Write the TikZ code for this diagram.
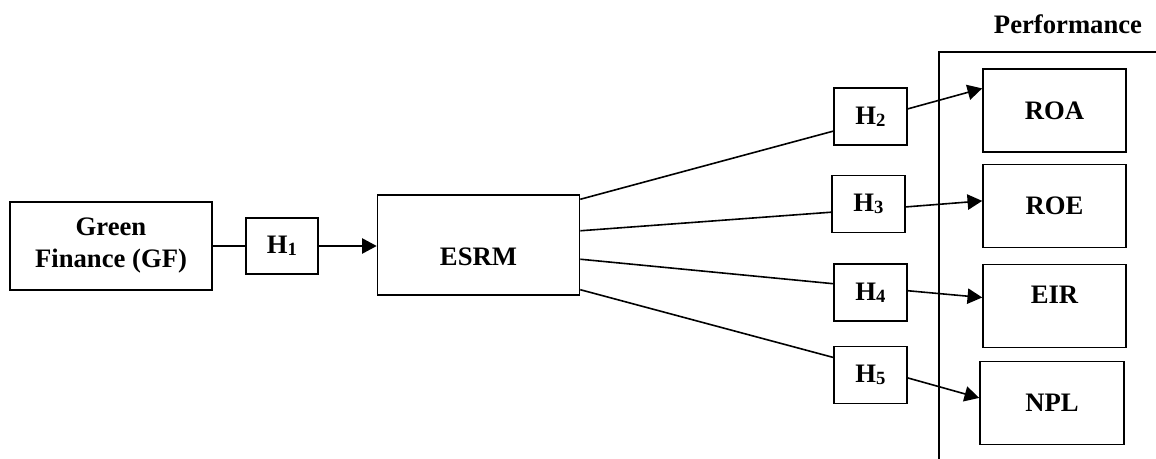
\documentclass[tikz,border=0pt]{standalone}
\usepackage{fontspec}
\setmainfont{Liberation Serif}
\usepackage{tikz}
\usetikzlibrary{arrows.meta, calc}
\definecolor{lineblack}{HTML}{000000}
\newcommand{\hsub}[1]{\raisebox{-1.5pt}{\fontsize{14}{14}\selectfont #1}}

\begin{document}
\begin{tikzpicture}[x=0.75pt, y=-0.75pt,
    box/.style={draw=lineblack, line width=1.2pt, font=\fontsize{20}{24}\selectfont\bfseries, align=center, inner sep=2pt},
    hbox/.style={box, minimum width=54.75pt, minimum height=42.75pt},
    perfbox/.style={box, minimum width=107.25pt, minimum height=62.5pt},
    link/.style={line width=1.2pt, lineblack},
    arr/.style={link, -{Triangle[length=11pt, width=11.5pt]}}]
    \useasboundingbox (0,0) rectangle (1156,459);

    % Left side
    \node[box, minimum width=151.5pt, minimum height=66pt] (gf) at (111,246) {Green\\Finance (GF)};
    \node[box, minimum width=54pt, minimum height=42pt] (h1) at (282,246) {H\hsub{1}};
    \node[box, minimum width=151.5pt, minimum height=75pt, text height=32pt, text depth=0.8pt] (esrm) at (478.5,245) {ESRM};

    % Hypotheses
    \node[hbox] (h2) at (870.5,116.5) {H\hsub{2}};
    \node[hbox] (h3) at (868.5,204) {H\hsub{3}};
    \node[hbox] (h4) at (870.5,292.5) {H\hsub{4}};
    \node[hbox] (h5) at (870.5,375) {H\hsub{5}};

    % Performance frame
    \node[font=\fontsize{20}{24}\selectfont\bfseries] (perf) at (1068,24) {Performance};
    \coordinate (framecorner) at (939,52);
    \draw[link] (1156,52) -- (framecorner) -- (939,459);

    \node[perfbox] (roa) at (1054.5,110.5) {ROA};
    \node[perfbox] (roe) at (1054.5,206) {ROE};
    \node[perfbox, text height=14pt, text depth=17.3pt] (eir) at (1054.5,306) {EIR};
    \node[perfbox, minimum width=108pt] (npl) at (1052,403) {NPL};

    % Connectors
    \draw[link] (gf.east) -- (h1.west);
    \draw[arr] (h1.east) -- (esrm.west |- h1.east);

    \draw[link] ($(esrm.north east)!0.05!(esrm.south east)$) -- ($(h2.north west)!0.75!(h2.south west)$);
    \draw[link] ($(esrm.north east)!0.36!(esrm.south east)$) -- ($(h3.north west)!0.64!(h3.south west)$);
    \draw[link] ($(esrm.north east)!0.64!(esrm.south east)$) -- ($(h4.north west)!0.35!(h4.south west)$);
    \draw[link] ($(esrm.north east)!0.94!(esrm.south east)$) -- ($(h5.north west)!0.2!(h5.south west)$);

    \draw[arr] ($(h2.north east)!0.37!(h2.south east)$) -- ($(roa.north west)!0.24!(roa.south west)$);
    \draw[arr] ($(h3.north east)!0.55!(h3.south east)$) -- ($(roe.north west)!0.44!(roe.south west)$);
    \draw[arr] ($(h4.north east)!0.47!(h4.south east)$) -- ($(eir.north west)!0.4!(eir.south west)$);
    \draw[arr] ($(h5.north east)!0.55!(h5.south east)$) -- ($(npl.north west)!0.44!(npl.south west)$);
\end{tikzpicture}
\end{document}
